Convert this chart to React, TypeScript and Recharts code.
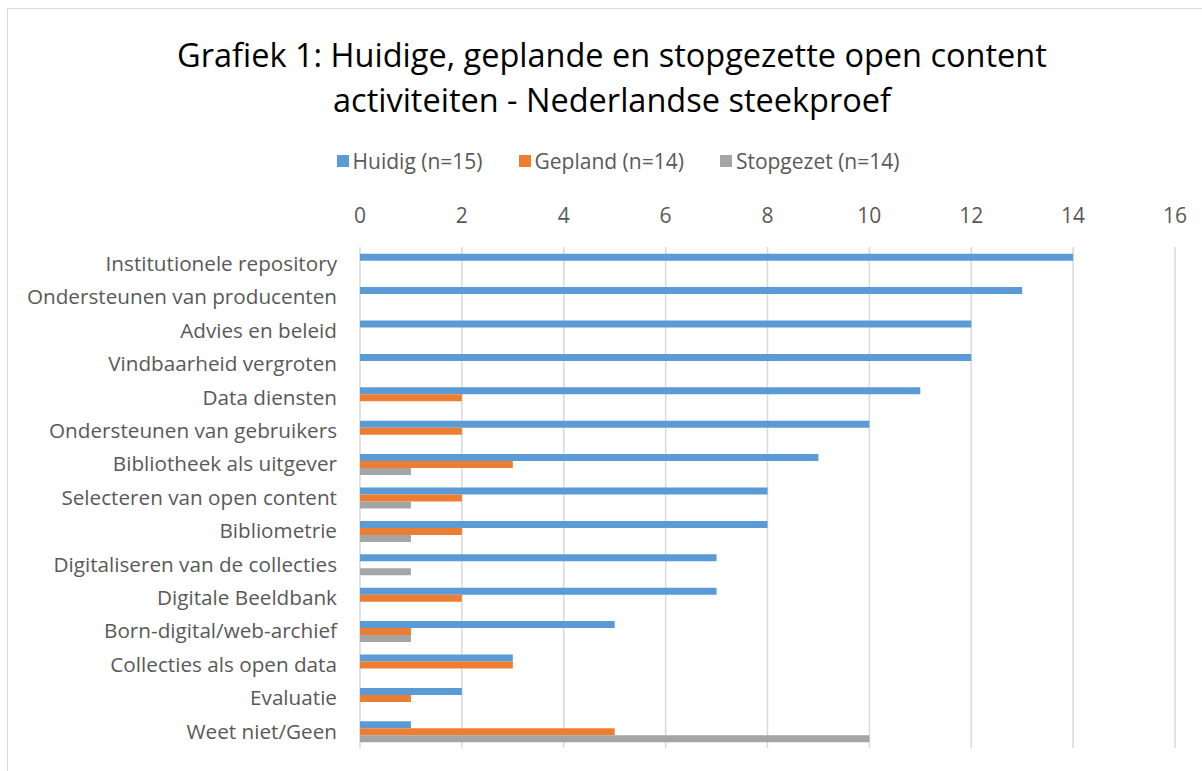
import React from 'react';
import { BarChart, Bar, XAxis, YAxis, CartesianGrid } from 'recharts';

const categories = [
  'Institutionele repository',
  'Ondersteunen van producenten',
  'Advies en beleid',
  'Vindbaarheid vergroten',
  'Data diensten',
  'Ondersteunen van gebruikers',
  'Bibliotheek als uitgever',
  'Selecteren van open content',
  'Bibliometrie',
  'Digitaliseren van de collecties',
  'Digitale Beeldbank',
  'Born-digital/web-archief',
  'Collecties als open data',
  'Evaluatie',
  'Weet niet/Geen',
];
const huidig = [14, 13, 12, 12, 11, 10, 9, 8, 8, 7, 7, 5, 3, 2, 1];
const gepland = [0, 0, 0, 0, 2, 2, 3, 2, 2, 0, 2, 1, 3, 1, 5];
const stopgezet = [0, 0, 0, 0, 0, 0, 1, 1, 1, 1, 0, 1, 0, 0, 10];
const xTicks = [0, 2, 4, 6, 8, 10, 12, 14, 16];
const seriesNames = ['Huidig (n=15)', 'Gepland (n=14)', 'Stopgezet (n=14)'];
const seriesColors = ['#5B9BD5', '#ED7D31', '#A5A5A5'];

const data = categories.map((c, i) => ({
  name: c,
  huidig: huidig[i],
  gepland: gepland[i],
  stopgezet: stopgezet[i],
}));

const FONT = '"Open Sans", sans-serif';

export default function App() {
  return (
    <div style={{ position: 'absolute', left: 0, top: 0, width: 1202, height: 771, background: '#fff', fontFamily: FONT }}>
      <div style={{ position: 'absolute', left: 7, top: 8, width: 1200, height: 770, border: '1px solid #D9D9D9', boxSizing: 'border-box' }} />
      <div style={{ position: 'absolute', left: 0, top: 32, width: 1224, textAlign: 'center', fontSize: 32.5, lineHeight: '45px', color: '#000' }}>
        Grafiek 1: Huidige, geplande en stopgezette open content
        <br />
        activiteiten - Nederlandse steekproef
      </div>
      <div style={{ position: 'absolute', left: 0, top: 147, width: 1236, display: 'flex', justifyContent: 'center', fontSize: 21, color: '#595959', lineHeight: '28px' }}>
        {seriesNames.map((n, i) => (
          <div key={n} style={{ display: 'flex', alignItems: 'center', marginRight: i < 2 ? 36 : 0 }}>
            <span style={{ display: 'inline-block', width: 12, height: 12, background: seriesColors[i], marginRight: 4 }} />
            <span>{n}</span>
          </div>
        ))}
      </div>
      <BarChart
        width={1202}
        height={771}
        data={data}
        layout="vertical"
        margin={{ top: 207, right: 27, bottom: 23, left: 0 }}
        barCategoryGap="20%"
        barGap={0}
        style={{ position: 'absolute', left: 0, top: 0 }}
      >
        <CartesianGrid horizontal={false} stroke="#D9D9D9" strokeWidth={1.5} />
        <XAxis
          type="number"
          orientation="top"
          domain={[0, 16]}
          ticks={xTicks}
          axisLine={false}
          tickLine={false}
          tickSize={0}
          tickMargin={24}
          height={40}
          tick={{ fill: '#595959', fontSize: 21, fontFamily: FONT }}
          interval={0}
        />
        <YAxis
          type="category"
          dataKey="name"
          width={360}
          axisLine={false}
          tickLine={false}
          tickSize={0}
          tickMargin={23}
          interval={0}
          tick={{ fill: '#595959', fontSize: 20.7, fontFamily: FONT }}
        />
        <Bar dataKey="huidig" name={seriesNames[0]} fill={seriesColors[0]} isAnimationActive={false} />
        <Bar dataKey="gepland" name={seriesNames[1]} fill={seriesColors[1]} isAnimationActive={false} />
        <Bar dataKey="stopgezet" name={seriesNames[2]} fill={seriesColors[2]} isAnimationActive={false} />
      </BarChart>
    </div>
  );
}
